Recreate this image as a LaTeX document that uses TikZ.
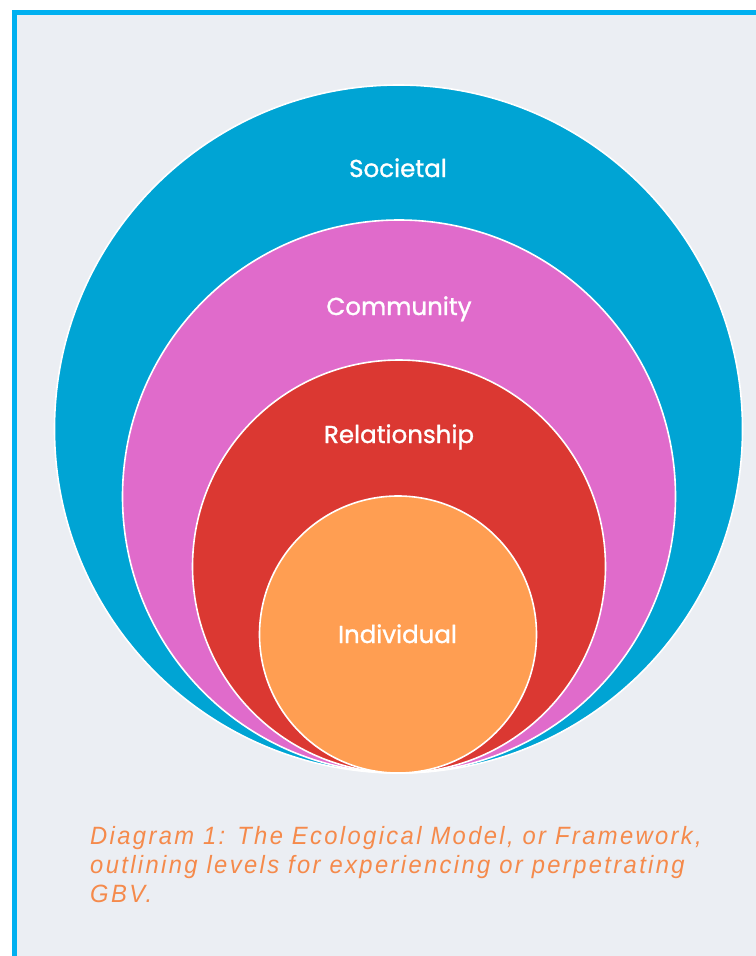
\documentclass[tikz,border=0pt]{standalone}
\usepackage{fontspec}
\usepackage{tikz}
\usetikzlibrary{positioning}

\newfontfamily\levelfont[FakeBold=1.2]{Poppins}
\newfontfamily\captionfont[FakeStretch=0.95,LetterSpace=9.5]{Liberation Sans}

\definecolor{framecol}{HTML}{00B0F0}
\definecolor{paper}{HTML}{EBEEF3}
\definecolor{societalcol}{HTML}{00A4D4}
\definecolor{communitycol}{HTML}{E06BCB}
\definecolor{relationcol}{HTML}{DB3832}
\definecolor{individualcol}{HTML}{FF9E52}
\definecolor{captioncol}{HTML}{F58A4B}

\begin{document}
\begin{tikzpicture}[
            x=1bp, y=-1bp,
            level/.style={ circle, draw=white, line width=1.6bp, inner sep=0pt },
            level text/.style={ text=white, anchor=base, font=\levelfont\fontsize{24.5bp}{28bp}\selectfont }
        ]

        \useasboundingbox (0,0) rectangle (756,956);
        \fill[white] (0,0) rectangle (756,956);
        \fill[paper] (17,15) rectangle (756,956);
        \fill[framecol] (12,10) rectangle (756,15);
        \fill[framecol] (12,10) rectangle (17,956);

        \node[level, fill=societalcol,   minimum size=688bp] (societal)     at (398.5,429)   {};
        \node[level, fill=communitycol,  minimum size=553bp] (community)    at (399,496.5)   {};
        \node[level, fill=relationcol,   minimum size=413bp] (relationship) at (399,566.5)   {};
        \node[level, fill=individualcol, minimum size=277bp] (individual)   at (398,634.5)   {};

        \node[level text] (societal-label)     at (398,177) {Societal};
        \node[level text] (community-label)    at (399,315) {Community};
        \node[level text] (relationship-label) at (399,443) {Relationship};
        \node[level text] (individual-label)   at (397.5,643) {Individual};

        % anchor is the baseline of the last line
        \node[anchor=base west, inner sep=0pt, align=left, text=captioncol,
              font=\captionfont\itshape\fontsize{25bp}{29bp}\selectfont] (caption) at (90,902)
              {Diagram 1: The Ecological Model, or Framework,\\
               outlining levels for experiencing or perpetrating\\
               GBV.};
    \end{tikzpicture}
\end{document}
